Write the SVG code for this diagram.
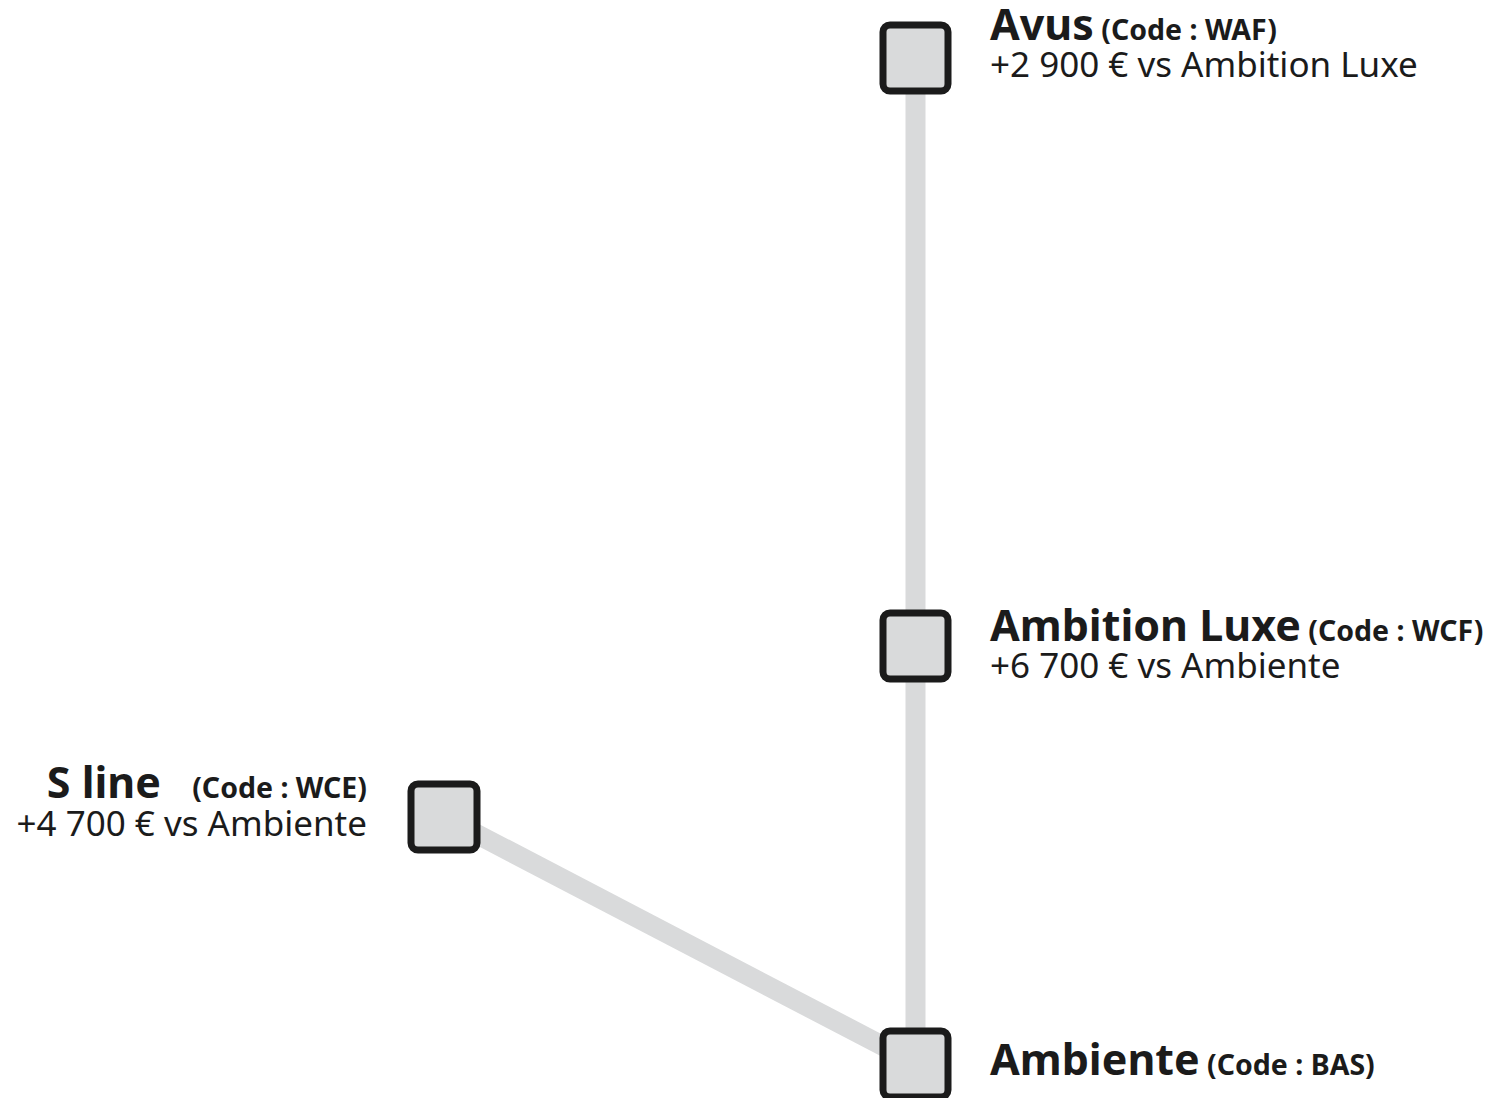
<svg xmlns="http://www.w3.org/2000/svg" width="1497" height="1098" viewBox="0 0 1497 1098">
<style>
.edge{stroke:#d9dadb;stroke-width:20;fill:none}
.box{fill:#d9dadb;stroke:#1b1b1b;stroke-width:7}
.t{font-family:"Noto Sans","Open Sans",sans-serif;fill:#1b1b1b}
.h{font-weight:700;font-size:43px}
.c{font-weight:700;font-size:28.5px}
.s{font-size:35px}
</style>
<rect width="1497" height="1098" fill="#ffffff"/>
<g id="connectors">
<line class="edge" x1="915.5" y1="58" x2="915.5" y2="1063"/>
<line class="edge" x1="444" y1="817" x2="915.5" y2="1063"/>
</g>
<g id="avus">
<rect class="box" x="883" y="25" width="65" height="66" rx="7"/>
<text class="t" x="990" y="40"><tspan class="h">Avus</tspan><tspan class="c"> (Code : WAF)</tspan></text>
<text class="t s" x="990" y="77">+2 900 € vs Ambition Luxe</text>
</g>
<g id="ambition-luxe">
<rect class="box" x="883" y="613" width="65" height="66" rx="7"/>
<text class="t" x="990" y="641"><tspan class="h">Ambition Luxe</tspan><tspan class="c"> (Code : WCF)</tspan></text>
<text class="t s" x="990" y="678">+6 700 € vs Ambiente</text>
</g>
<g id="s-line">
<rect class="box" x="411" y="784" width="66" height="66" rx="7"/>
<text class="t h" x="161" y="798" text-anchor="end">S line</text>
<text class="t c" x="367" y="798" text-anchor="end">(Code : WCE)</text>
<text class="t s" x="367" y="836" text-anchor="end">+4 700 € vs Ambiente</text>
</g>
<g id="ambiente">
<rect class="box" x="883" y="1031" width="65" height="66" rx="7"/>
<text class="t" x="990" y="1075"><tspan class="h">Ambiente</tspan><tspan class="c"> (Code : BAS)</tspan></text>
</g>
</svg>
